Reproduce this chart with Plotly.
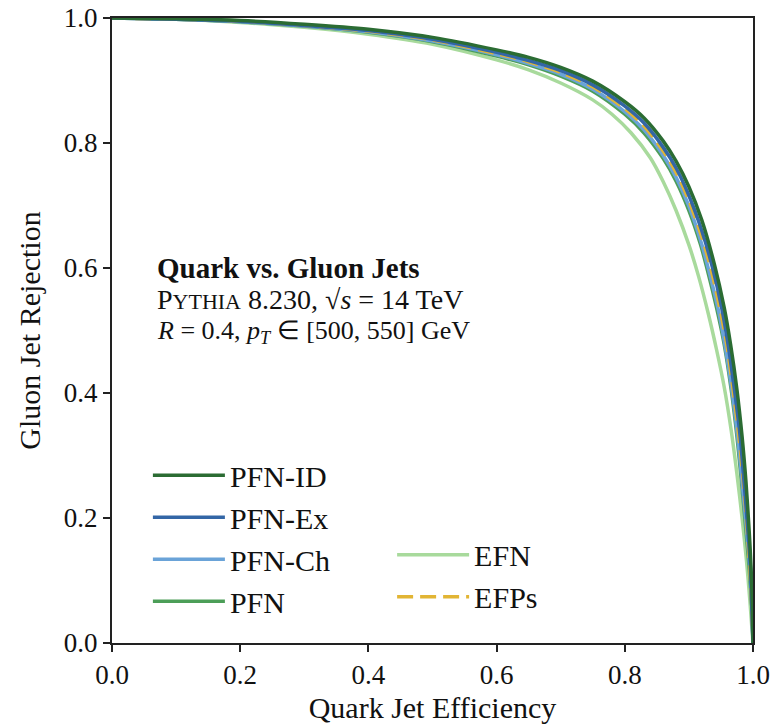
import plotly.graph_objects as go

# ---- data ----
id_x = [0.0, 0.1, 0.2, 0.3, 0.4, 0.5, 0.6, 0.65, 0.7, 0.75, 0.8, 0.83, 0.86, 0.88, 0.90, 0.92, 0.94, 0.955, 0.965, 0.975, 0.983, 0.989, 0.994, 0.997, 0.999, 1.0]
id_y = [1.0, 0.999, 0.996, 0.990, 0.982, 0.969, 0.949, 0.937, 0.921, 0.899, 0.866, 0.840, 0.803, 0.771, 0.730, 0.677, 0.605, 0.537, 0.478, 0.405, 0.330, 0.258, 0.180, 0.120, 0.060, 0.0]

ex_x = [0.0, 0.1, 0.2, 0.3, 0.4, 0.5, 0.6, 0.65, 0.7, 0.75, 0.8, 0.83, 0.86, 0.88, 0.90, 0.92, 0.937, 0.951, 0.961, 0.971, 0.980, 0.986, 0.992, 0.996, 0.998, 1.0]
ex_y = [1.0, 0.998, 0.995, 0.988, 0.980, 0.966, 0.945, 0.932, 0.916, 0.893, 0.859, 0.832, 0.793, 0.760, 0.716, 0.660, 0.600, 0.537, 0.478, 0.405, 0.330, 0.258, 0.180, 0.120, 0.060, 0.0]

ch_x = [0.0, 0.1, 0.2, 0.3, 0.4, 0.5, 0.6, 0.65, 0.7, 0.75, 0.8, 0.83, 0.86, 0.88, 0.90, 0.92, 0.930, 0.945, 0.956, 0.967, 0.976, 0.983, 0.990, 0.995, 0.998, 1.0]
ch_y = [1.0, 0.998, 0.994, 0.987, 0.978, 0.963, 0.941, 0.927, 0.910, 0.886, 0.850, 0.821, 0.780, 0.745, 0.699, 0.638, 0.600, 0.537, 0.478, 0.405, 0.330, 0.258, 0.180, 0.120, 0.060, 0.0]

pfn_x = [0.0, 0.1, 0.2, 0.3, 0.4, 0.5, 0.6, 0.65, 0.7, 0.75, 0.8, 0.83, 0.86, 0.88, 0.90, 0.918, 0.928, 0.943, 0.955, 0.966, 0.975, 0.982, 0.989, 0.994, 0.998, 1.0]
pfn_y = [1.0, 0.998, 0.994, 0.987, 0.977, 0.962, 0.939, 0.925, 0.907, 0.883, 0.846, 0.816, 0.775, 0.739, 0.692, 0.638, 0.600, 0.537, 0.478, 0.405, 0.330, 0.258, 0.180, 0.120, 0.060, 0.0]

efp_x = [0.0, 0.1, 0.2, 0.3, 0.4, 0.5, 0.6, 0.65, 0.7, 0.75, 0.8, 0.83, 0.86, 0.88, 0.90, 0.92, 0.934, 0.948, 0.959, 0.969, 0.978, 0.985, 0.991, 0.995, 0.998, 1.0]
efp_y = [1.0, 0.998, 0.995, 0.988, 0.979, 0.965, 0.943, 0.930, 0.913, 0.890, 0.855, 0.827, 0.787, 0.753, 0.708, 0.650, 0.600, 0.537, 0.478, 0.405, 0.330, 0.258, 0.180, 0.120, 0.060, 0.0]

efn_x = [0.0, 0.1, 0.2, 0.3, 0.4, 0.5, 0.6, 0.65, 0.7, 0.75, 0.78, 0.81, 0.84, 0.86, 0.88, 0.90, 0.915, 0.93, 0.943, 0.955, 0.966, 0.975, 0.983, 0.990, 0.995, 1.0]
efn_y = [1.0, 0.998, 0.993, 0.985, 0.974, 0.958, 0.933, 0.917, 0.896, 0.869, 0.846, 0.816, 0.776, 0.738, 0.692, 0.637, 0.587, 0.528, 0.470, 0.410, 0.340, 0.270, 0.200, 0.130, 0.070, 0.0]

x_ticks = [0.0, 0.2, 0.4, 0.6, 0.8, 1.0]
y_ticks = [0.0, 0.2, 0.4, 0.6, 0.8, 1.0]

FONT = "Liberation Serif"

series = [
    # name, x, y, color, dash, legend, rank
    ("EFN", efn_x, efn_y, "#a8da9c", "solid", "legend2", 5),
    ("PFN", pfn_x, pfn_y, "#4c9e58", "solid", "legend", 4),
    ("PFN-Ch", ch_x, ch_y, "#6aa3d8", "solid", "legend", 3),
    ("EFPs", efp_x, efp_y, "#e2b534", "16px,7px", "legend2", 6),
    ("PFN-Ex", ex_x, ex_y, "#3366a6", "solid", "legend", 2),
    ("PFN-ID", id_x, id_y, "#2b6c33", "solid", "legend", 1),
]

fig = go.Figure()
for i, (name, xs, ys, col, dash, leg, rank) in enumerate(series):
    fig.add_trace(go.Scatter(
        x=xs, y=ys, mode="lines", name=name,
        line=dict(color=col, width=3.5, dash=dash, shape="spline", smoothing=0.8),
        legend=leg, legendrank=rank, legendgroup="g%d" % i,
    ))

axis_common = dict(
    range=[0, 1], showgrid=False, zeroline=False, automargin=False,
    showline=True, linecolor="#222", linewidth=2, mirror=True,
    ticks="outside", ticklen=7, tickwidth=1.5, tickcolor="#222",
    tickformat=".1f", tickfont=dict(family=FONT, size=27, color="#111"),
)
fig.update_xaxes(**axis_common, tickvals=x_ticks,
                 title=dict(text="Quark Jet Efficiency", font=dict(family=FONT, size=30, color="#111"), standoff=8))
fig.update_yaxes(**axis_common, tickvals=y_ticks,
                 title=dict(text="Gluon Jet Rejection", font=dict(family=FONT, size=30, color="#111"), standoff=14))

leg_font = dict(family=FONT, size=30, color="#111")
fig.update_layout(
    width=773, height=726,
    margin=dict(l=112, r=20, t=18, b=83),
    plot_bgcolor="white", paper_bgcolor="white",
    legend=dict(x=0.056, y=0.31, xanchor="left", yanchor="top", bgcolor="rgba(0,0,0,0)",
                font=leg_font, tracegroupgap=4, itemwidth=72, traceorder="normal"),
    legend2=dict(x=0.437, y=0.183, xanchor="left", yanchor="top", bgcolor="rgba(0,0,0,0)",
                 font=leg_font, tracegroupgap=2, itemwidth=72, traceorder="normal"),
)

texts = [
    ("<b>Quark vs. Gluon Jets</b>", 0.600, 29),
    ("P<span style='font-size:22px'>YTHIA</span> 8.230, √<i>s</i> = 14 TeV", 0.549, 28),
    ("<i>R</i> = 0.4, <i>p</i><sub><i>T</i></sub> ∈ [500, 550] GeV", 0.497, 26),
]
for t, yy, fs in texts:
    fig.add_annotation(text=t, x=0.067, y=yy, xref="paper", yref="paper",
                       xanchor="left", yanchor="middle", showarrow=False,
                       font=dict(family=FONT, size=fs, color="#111"))

fig.write_html("out.html")
